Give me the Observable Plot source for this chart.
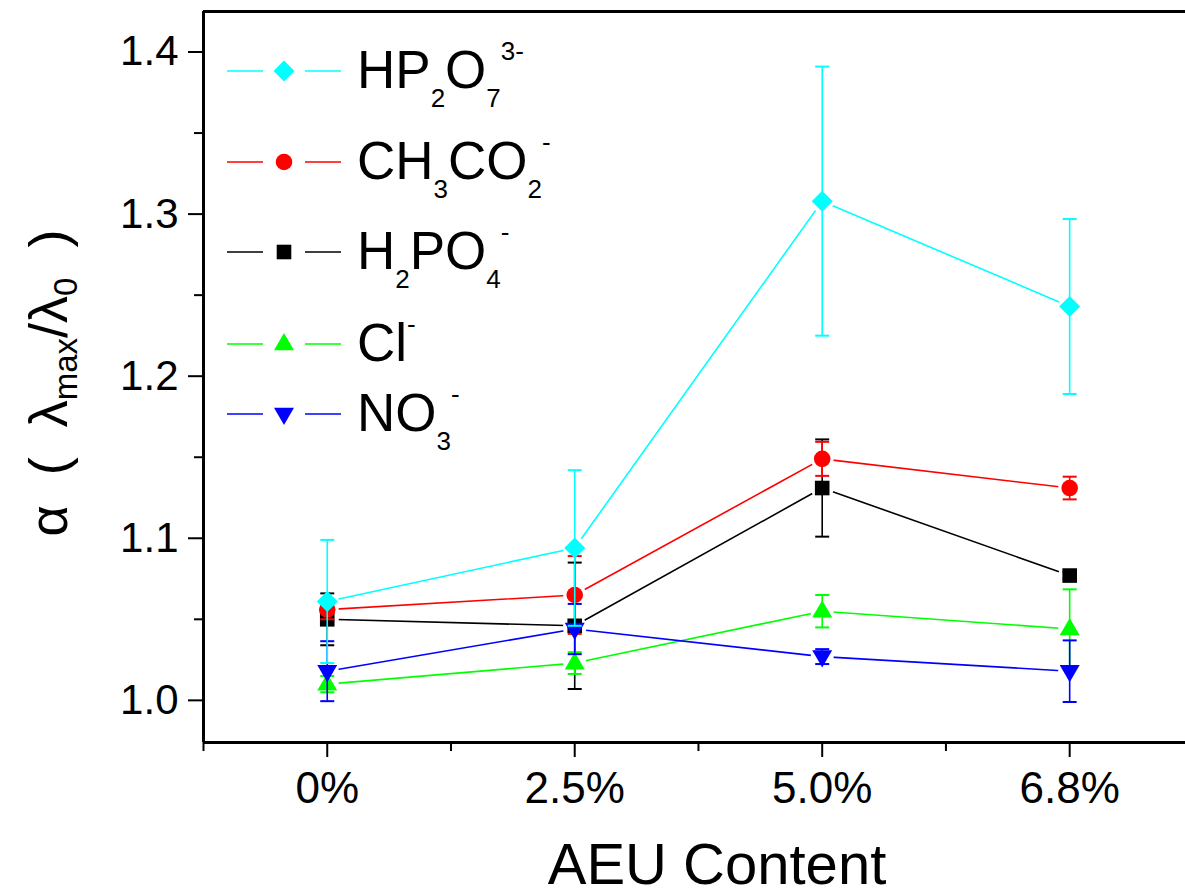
<!DOCTYPE html>
<html><head><meta charset="utf-8">
<script src="https://cdn.jsdelivr.net/npm/d3@7"></script>
<script src="https://cdn.jsdelivr.net/npm/@observablehq/plot@0.6"></script>
<style>body{margin:0;background:#fff;} svg{display:block}</style>
</head><body><div id="chart"></div>
<script>
// ---- data ----
const categories = ["0%", "2.5%", "5.0%", "6.8%"];
const seriesKeys = ["H2PO4", "CH3CO2", "Cl", "NO3", "HP2O7"]; // drawing order
const hp2o7 = [1.061, 1.094, 1.308, 1.243];
const hp2o7Err = [0.038, 0.048, 0.083, 0.054];
const ch3co2 = [1.056, 1.065, 1.149, 1.131];
const ch3co2Err = [0.006, 0.024, 0.0105, 0.007];
const h2po4 = [1.050, 1.046, 1.131, 1.077];
const h2po4Err = [0.016, 0.039, 0.030, 0.002];
const cl = [1.010, 1.023, 1.055, 1.044];
const clErr = [0.005, 0.0067, 0.010, 0.0245];
const no3 = [1.018, 1.044, 1.027, 1.018];
const no3Err = [0.0185, 0.0155, 0.0046, 0.019];
const yMajorTicks = [1.0, 1.1, 1.2, 1.3, 1.4];
const yMinorTicks = [1.05, 1.15, 1.25, 1.35];
const legendOrder = ["HP2O7", "CH3CO2", "H2PO4", "Cl", "NO3"];
const legendLabels = {
  HP2O7: [["HP",""],["2","sub"],["O",""],["7","sub"],["3-","sup"]],
  CH3CO2: [["CH",""],["3","sub"],["CO",""],["2","sub"],["-","sup"]],
  H2PO4: [["H",""],["2","sub"],["PO",""],["4","sub"],["-","sup"]],
  Cl: [["Cl",""],["-","sup"]],
  NO3: [["NO",""],["3","sub"],["-","sup"]]
};

// ---- styles ----
const colors = {HP2O7: "#00ffff", CH3CO2: "#ff0000", H2PO4: "#000000", Cl: "#00ff00", NO3: "#0000ff"};
const sym = {
  diamond: {draw(c){const h=10.5;c.moveTo(0,-h);c.lineTo(h,0);c.lineTo(0,h);c.lineTo(-h,0);c.closePath();}},
  circle: {draw(c){const r=8.3;c.moveTo(r,0);c.arc(0,0,r,0,2*Math.PI);}},
  square: {draw(c){const s=7.3;c.rect(-s,-s,2*s,2*s);}},
  up: {draw(c){c.moveTo(0,-11);c.lineTo(10,6.3);c.lineTo(-10,6.3);c.closePath();}},
  down: {draw(c){c.moveTo(0,11);c.lineTo(10,-6.3);c.lineTo(-10,-6.3);c.closePath();}},
  cap: {draw(c){c.moveTo(-7,0);c.lineTo(7,0);}}
};
const symbols = {HP2O7: sym.diamond, CH3CO2: sym.circle, H2PO4: sym.square, Cl: sym.up, NO3: sym.down};
const valuesBy = {HP2O7: [hp2o7, hp2o7Err], CH3CO2: [ch3co2, ch3co2Err], H2PO4: [h2po4, h2po4Err], Cl: [cl, clErr], NO3: [no3, no3Err]};

const rowsBy = {};
for (const k of seriesKeys) {
  const [v, e] = valuesBy[k];
  rowsBy[k] = categories.map((c, i) => ({series: k, i, value: v[i], err: e[i]}));
}

const xDomain = [-0.5, 3.468];
const yDomain = [0.974, 1.425];

const marks = [];
for (const k of seriesKeys) {
  marks.push(Plot.line(rowsBy[k], {x: "i", y: "value", stroke: colors[k], strokeWidth: 1.6}));
  marks.push(Plot.dot(rowsBy[k], {x: "i", y: "value", r: 11.5, fill: "white", stroke: null}));
}
for (const k of seriesKeys) {
  marks.push(Plot.ruleX(rowsBy[k], {x: "i", y1: d => d.value - d.err, y2: d => d.value + d.err, stroke: colors[k], strokeWidth: 1.6}));
  marks.push(Plot.dot(rowsBy[k], {x: "i", y: d => d.value - d.err, symbol: sym.cap, r: 7, stroke: colors[k], fill: "none", strokeWidth: 2}));
  marks.push(Plot.dot(rowsBy[k], {x: "i", y: d => d.value + d.err, symbol: sym.cap, r: 7, stroke: colors[k], fill: "none", strokeWidth: 2}));
  marks.push(Plot.dot(rowsBy[k], {x: "i", y: "value", symbol: symbols[k], r: 8, fill: colors[k], stroke: null}));
}
// axes & frame
marks.push(
  Plot.axisY({ticks: yMajorTicks, tickSize: 15, tickPadding: 10, fontSize: 42, tickFormat: d => d.toFixed(1), strokeWidth: 2, label: null}),
  Plot.axisY({ticks: yMinorTicks, tickSize: 9, tickFormat: () => "", strokeWidth: 2, label: null}),
  Plot.axisX({ticks: [0, 1, 2, 3], tickSize: 15, tickPadding: 14, fontSize: 44, tickFormat: i => categories[i], strokeWidth: 2, label: null}),
  Plot.axisX({ticks: [-0.5, 0.5, 1.5, 2.5], tickSize: 9, tickFormat: () => "", strokeWidth: 2, label: null}),
  Plot.ruleX([xDomain[0]], {stroke: "black", strokeWidth: 3}),
  Plot.ruleY([yDomain[0]], {stroke: "black", strokeWidth: 3}),
  Plot.ruleY([yDomain[1]], {stroke: "black", strokeWidth: 3})
);

const chart = Plot.plot({
  width: 1185, height: 888,
  marginLeft: 203, marginRight: 0, marginTop: 11, marginBottom: 146,
  style: {fontFamily: "'Liberation Sans', Arial, sans-serif", background: "white", color: "black"},
  x: {domain: xDomain},
  y: {domain: yDomain},
  marks
});
document.getElementById("chart").append(chart);

// ---- legend & titles ----
const svg = d3.select(chart);
const font = "'Liberation Sans', Arial, sans-serif";
const legendY = [71, 162, 252, 344, 414];
const lg = svg.append("g").attr("text-anchor", "start");
legendOrder.forEach((k, j) => {
  const y = legendY[j];
  lg.append("line").attr("x1", 227).attr("x2", 263).attr("y1", y).attr("y2", y).attr("stroke", colors[k]).attr("stroke-width", 1.3);
  lg.append("line").attr("x1", 305).attr("x2", 341).attr("y1", y).attr("y2", y).attr("stroke", colors[k]).attr("stroke-width", 1.3);
  lg.append("path").attr("transform", `translate(284,${y})`).attr("d", d3.symbol(symbols[k])()).attr("fill", colors[k]);
  const t = lg.append("text").attr("x", 357).attr("y", y + 17).attr("text-anchor", "start")
    .attr("font-family", font).attr("font-size", 53).attr("fill", "black");
  let shift = 0;
  for (const [s, kind] of legendLabels[k]) {
    const target = kind === "sub" ? 19 : kind === "sup" ? -28 : 0;
    t.append("tspan").attr("dy", target - shift).attr("font-size", kind ? 26 : 53).text(s);
    shift = target;
  }
});

const yt = svg.append("text").attr("transform", "translate(67,383) rotate(-90)")
  .attr("text-anchor", "middle").attr("font-family", font).attr("font-size", 54).style("white-space", "pre").attr("fill", "black");
yt.append("tspan").text("α  (  λ");
yt.append("tspan").attr("font-size", 33).attr("dy", 10).text("max");
yt.append("tspan").attr("dy", -10).text("/λ");
yt.append("tspan").attr("font-size", 33).attr("dy", 10).text("0");
yt.append("tspan").attr("dy", -10).text("  )");

svg.append("text").attr("x", 717).attr("y", 884).attr("text-anchor", "middle").attr("font-family", font)
  .attr("font-size", 58).attr("fill", "black").text("AEU Content");
</script>
</body></html>
